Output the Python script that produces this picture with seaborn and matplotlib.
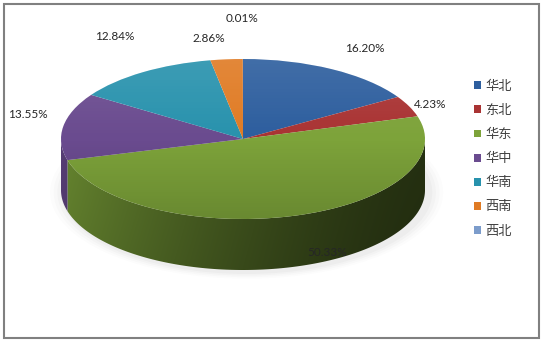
import numpy as np
import matplotlib
matplotlib.use('Agg')
import matplotlib.pyplot as plt
import seaborn as sns
from matplotlib.patches import Polygon, Ellipse, Rectangle
from matplotlib.colors import to_rgb

# ---- data ----
regions = ['华北', '东北', '华东', '华中', '华南', '西南', '西北']
shares = [16.20, 4.23, 50.33, 13.55, 12.84, 2.86, 0.01]
share_labels = ['16.20%', '4.23%', '50.33%', '13.55%', '12.84%', '2.86%', '0.01%']
colors = ['#2D5E9E', '#A93333', '#7DA33A', '#6A4B8F', '#2892AD', '#E07B24', '#7C9CCB']

# label centres in figure pixels (layout only)
label_px = [(365, 48), (430, 104), (327, 252), (28, 114), (115, 37), (209, 38), (242, 19)]

sns.set_theme(style='white')
plt.rcParams['font.family'] = ['Noto Sans CJK SC', 'DejaVu Sans']

W, H = 545, 345
fig = plt.figure(figsize=(W / 100, H / 100), dpi=100)
fig.patch.set_facecolor('white')
ax = fig.add_axes([0, 0, 1, 1])

CX, CY, RX, RY, DEPTH = 243, 139, 182, 80, 51
d = DEPTH / RY
XL = (-CX / RX, (W - CX) / RX)
YL = (-(H - CY) / RY, CY / RY)


def px2data(px, py):
    return (px - CX) / RX, (CY - py) / RY


# soft shadow
for k, a in enumerate([0.012, 0.015, 0.02, 0.025]):
    s = 1.0 + 0.02 * (4 - k)
    ax.add_patch(Ellipse((0.02, -d - 0.03), 2 * s, 2 * s, facecolor='#000000',
                         alpha=a, linewidth=0, zorder=0))

# side wall, one gradient-filled region per slice
total = sum(shares)
cum = np.concatenate([[0], np.cumsum(shares)])
xs = np.linspace(-1, 1, 400)
ys = np.linspace(0, 1, 60)
shade_x = 0.30 + 0.52 * ((1 - xs) / 2) ** 1.4
shade_y = 1.0 - 0.10 * ys
for i, c in enumerate(colors):
    a0 = 90 - 360 * cum[i] / total
    a1 = 90 - 360 * cum[i + 1] / total
    lo, hi = max(a1, -180), min(a0, 0)
    if hi <= lo:
        continue
    t = np.deg2rad(np.linspace(lo, hi, 200))
    upper = np.column_stack([np.cos(t), np.sin(t)])
    lower = np.column_stack([np.cos(t[::-1]), np.sin(t[::-1]) - d])
    poly = Polygon(np.vstack([upper, lower]), closed=True, facecolor='none',
                   edgecolor='none', transform=ax.transData)
    ax.add_patch(poly)
    base = np.array(to_rgb(c))
    img = np.clip(base[None, None, :] * shade_x[None, :, None] * shade_y[:, None, None], 0, 1)
    im = ax.imshow(img, extent=(-1, 1, -1 - d, 0), aspect='auto', zorder=1,
                   interpolation='bilinear', origin='upper')
    im.set_clip_path(poly)

# top face
wedges, _ = ax.pie(shares, colors=colors, startangle=90, counterclock=False,
                   radius=1, center=(0, 0),
                   wedgeprops=dict(linewidth=0.3, edgecolor='none', zorder=2))
ax.axis('off')

# gradient overlay on top face (lighter at back, darker at front)
tt = np.linspace(0, 1, 200)
grad = np.zeros((200, 2, 4))
top_half = tt < 0.5
grad[top_half, :, :3] = 1.0
grad[~top_half, :, :3] = 0.0
alpha = np.where(top_half, 0.10 * (1 - 2 * tt), 0.16 * (2 * tt - 1))
grad[:, :, 3] = alpha[:, None]
im = ax.imshow(grad, extent=(-1, 1, -1, 1), aspect='auto', zorder=3,
               interpolation='bilinear', origin='upper')
im.set_clip_path(Ellipse((0, 0), 2, 2, transform=ax.transData))
ax.set_aspect('auto')
ax.set_xlim(*XL)
ax.set_ylim(*YL)

# labels
for txt, (px, py) in zip(share_labels, label_px):
    x, y = px2data(px, py)
    ax.text(x, y, txt, ha='center', va='center', fontsize=8.5, color='#262626',
            family=['Lato', 'DejaVu Sans'], zorder=5)

# legend
handles = [Rectangle((0, 0), 1, 1, facecolor=c, edgecolor='none') for c in colors]
fig.legend(handles, regions, loc='upper left', bbox_to_anchor=(474 / W, 1 - 80 / H),
           frameon=False, fontsize=9.5, handlelength=0.55, handleheight=0.55,
           handletextpad=0.3, labelspacing=0.84, borderpad=0, borderaxespad=0,
           labelcolor='#404040')

# outer border
fig.add_artist(Rectangle((4 / W, 7 / H), 535 / W, 334 / H, transform=fig.transFigure,
                         fill=False, edgecolor='#808080', linewidth=1.5))

fig.savefig('out.png', dpi=100)
